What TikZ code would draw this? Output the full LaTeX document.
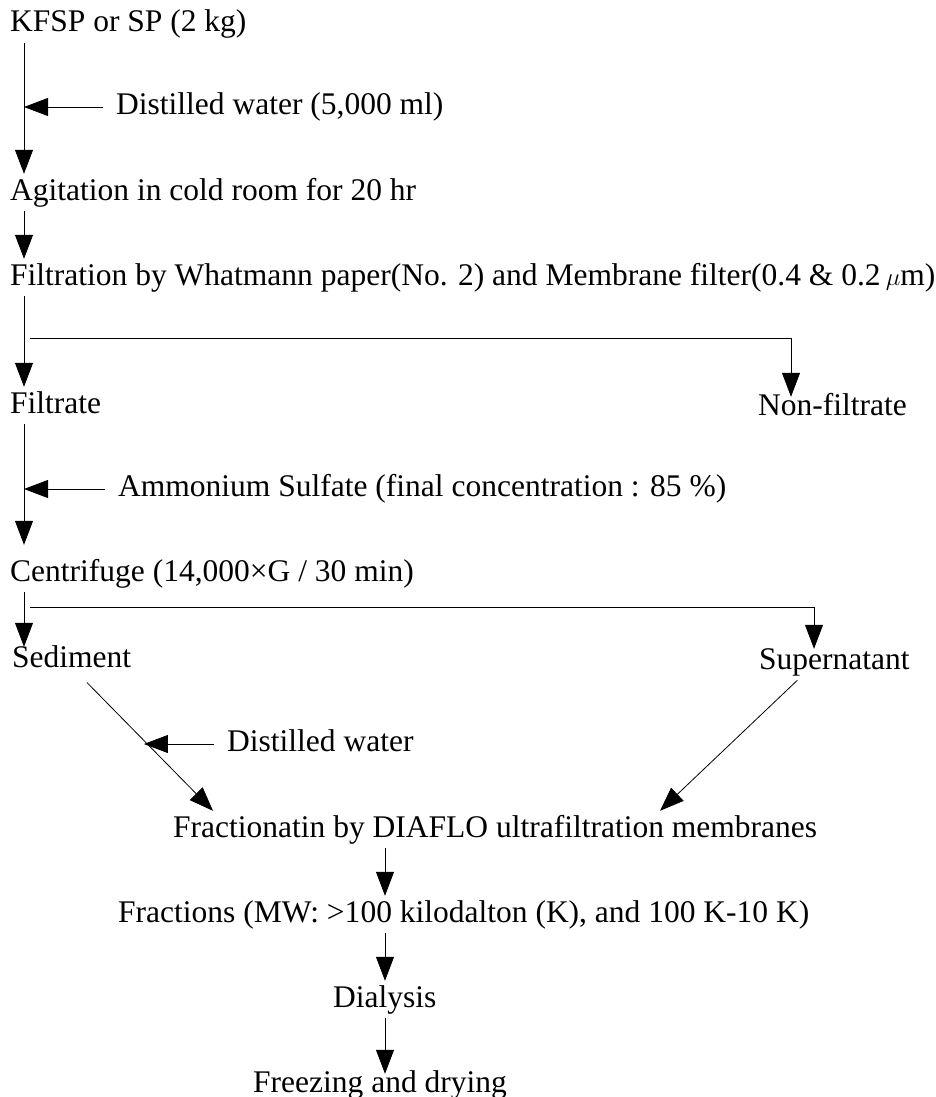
\documentclass[tikz,border=0pt]{standalone}
\usepackage{fontspec}
\setmainfont{Liberation Serif}
\usetikzlibrary{arrows.meta}

\begin{document}
\begin{tikzpicture}[
    x=1pt, y=-1pt,
    txt/.style={anchor=base west, inner xsep=0pt, inner ysep=4pt, text height=22pt, text depth=7pt, font=\fontsize{31.5}{36}\selectfont},
    side/.style={txt, anchor=west, inner xsep=13pt},
    arr/.style={-{Triangle[length=24pt, width=18pt]}, line width=0.8pt}
  ]
    \useasboundingbox (0,0) rectangle (936,1097);

    % Main steps
    \node[txt] (kfsp)     at (10,  32)  {KFSP or SP (2 kg)};
    \node[txt] (agit)     at (10, 200)  {Agitation in cold room for 20 hr};
    \node[txt] (filtr)    at (10, 285)  {Filtration by Whatmann paper(No. 2) and Membrane filter(0.4 \& 0.2\,$\mu$m)};
    \node[txt] (filtrate) at (10, 413)  {Filtrate};
    \node[txt] (nonfilt)  at (758, 415) {Non-filtrate};
    \node[txt] (centri)   at (10, 581)  {Centrifuge (14,000×G / 30 min)};
    \node[txt] (sedim)    at (12, 667)  {Sediment};
    \node[txt] (supern)   at (759, 669) {Supernatant};
    \node[txt] (fractn)   at (173, 837) {Fractionatin by DIAFLO ultrafiltration membranes};
    \node[txt] (fracs)    at (118, 922) {Fractions (MW: >100 kilodalton (K), and 100 K-10 K)};
    \node[txt] (dialys)   at (333, 1007) {Dialysis};
    \node[txt] (freeze)   at (253, 1092) {Freezing and drying};

    % Added reagents
    \node[side] (water1)  at (103, 107) {Distilled water (5,000 ml)};
    \node[side] (ammsulf) at (105, 489) {Ammonium Sulfate (final concentration : 85 \%)};
    \node[side] (water2)  at (214, 744) {Distilled water};

    % Guide lines
    \coordinate (spine) at (24, 0);
    \coordinate (midx)  at (385, 0);
    \coordinate (fbr)   at (30, 338);
    \coordinate (cbr)   at (30, 607);

    % Left column
    \draw[arr] (kfsp.south -| spine) -- (agit.north -| spine);
    \draw[arr] (agit.south -| spine) -- (filtr.north -| spine);
    \draw[arr] (filtr.south -| spine) -- (filtrate.north -| spine);
    \draw[arr, shorten >=10pt] (filtrate.south -| spine) -- (centri.north -| spine);
    \draw[arr, shorten >=-6pt] (centri.south -| spine) -- (sedim.north -| spine);

    % Branches
    \draw[arr, shorten >=-8pt] (fbr) -| ([xshift=33pt]nonfilt.north west);
    \draw[arr, shorten >=-6pt] (cbr) -| ([xshift=55pt]supern.north west);

    % Into fractionation
    \draw[arr, shorten <=6pt] ([xshift=11pt]sedim.south) -- coordinate[pos=0.47] (dwcross) ([xshift=40pt]fractn.north west);
    \draw[arr] ([xshift=-37pt]supern.south) -- ([xshift=487pt]fractn.north west);

    % Reagent arrows
    \draw[arr] (water1.west) -- (water1.west -| spine);
    \draw[arr] (ammsulf.west) -- (ammsulf.west -| spine);
    \draw[arr] (water2.west) -- (water2.west -| dwcross);

    % Last steps
    \draw[arr] (fractn.south -| midx) -- (fracs.north -| midx);
    \draw[arr] (fracs.south -| midx) -- (dialys.north -| midx);
    \draw[arr, shorten >=-8pt] (dialys.south -| midx) -- (freeze.north -| midx);
  \end{tikzpicture}
\end{document}
